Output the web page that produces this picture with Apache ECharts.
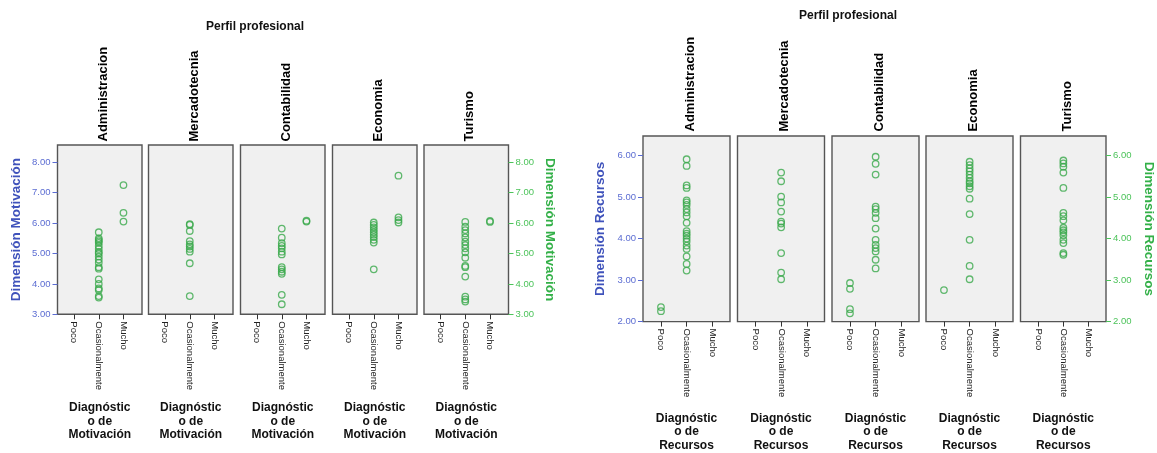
<!DOCTYPE html>
<html>
<head>
<meta charset="utf-8">
<title>Perfil profesional</title>
<script src="https://cdn.jsdelivr.net/npm/echarts@6/dist/echarts.min.js"></script>
<style>
  html, body { margin: 0; padding: 0; background: #ffffff; }
  #chart { width: 1157px; height: 453px; }
</style>
</head>
<body>
<div id="chart"></div>
<script>
// Categories
const professions = ['Administracion', 'Mercadotecnia', 'Contabilidad', 'Economia', 'Turismo'];
const levels = ['Poco', 'Ocasionalmente', 'Mucho'];

// Dimensión Motivación by profession: [Poco, Ocasionalmente, Mucho]
const motAdministracion = [
  [],
  [5.70, 5.50, 5.45, 5.40, 5.35, 5.25, 5.15, 5.05, 5.00, 4.90, 4.80, 4.70, 4.55, 4.50, 4.15, 4.00, 3.85, 3.80, 3.60, 3.55],
  [7.25, 6.34, 6.05]
];
const motMercadotecnia = [
  [],
  [5.97, 5.94, 5.74, 5.41, 5.30, 5.23, 5.15, 5.06, 4.68, 3.60],
  []
];
const motContabilidad = [
  [],
  [5.82, 5.52, 5.34, 5.25, 5.17, 5.06, 4.97, 4.55, 4.48, 4.40, 4.33, 3.64, 3.33],
  [6.08, 6.05]
];
const motEconomia = [
  [],
  [6.02, 5.94, 5.86, 5.78, 5.70, 5.62, 5.54, 5.45, 5.36, 4.48],
  [7.56, 6.19, 6.10, 6.02]
];
const motTurismo = [
  [],
  [6.04, 5.88, 5.77, 5.66, 5.53, 5.39, 5.28, 5.17, 5.04, 4.86, 4.59, 4.55, 4.24, 3.58, 3.49, 3.42],
  [6.07, 6.04]
];

// Dimensión Recursos by profession: [Poco, Ocasionalmente, Mucho]
const recAdministracion = [
  [2.35, 2.25],
  [5.91, 5.75, 5.28, 5.22, 4.92, 4.87, 4.81, 4.71, 4.63, 4.54, 4.38, 4.18, 4.12, 4.07, 4.00, 3.93, 3.83, 3.75, 3.57, 3.39, 3.23],
  []
];
const recMercadotecnia = [
  [],
  [5.59, 5.38, 5.01, 4.87, 4.65, 4.41, 4.36, 4.27, 3.65, 3.18, 3.02],
  []
];
const recContabilidad = [
  [2.93, 2.79, 2.30, 2.20],
  [5.97, 5.80, 5.54, 4.77, 4.71, 4.62, 4.49, 4.24, 3.97, 3.85, 3.77, 3.69, 3.49, 3.28],
  []
];
const recEconomia = [
  [2.76],
  [5.85, 5.77, 5.69, 5.62, 5.54, 5.46, 5.38, 5.33, 5.26, 5.20, 4.96, 4.59, 3.97, 3.34, 3.02],
  []
];
const recTurismo = [
  [],
  [5.88, 5.81, 5.73, 5.59, 5.22, 4.62, 4.54, 4.44, 4.26, 4.20, 4.15, 4.08, 3.97, 3.89, 3.65, 3.61],
  []
];

// Tick labels
const motTicks = [3, 4, 5, 6, 7, 8];
const recTicks = [2, 3, 4, 5, 6];

const FONT = 'Liberation Sans, Arial, sans-serif';
const BLUE_LABEL = '#5b6cd2';
const BLUE_TITLE = '#3f52bb';
const GREEN_LABEL = '#4cc35a';
const GREEN_TITLE = '#33b048';
const POINT = '#3aa94b';

const option = {
  animation: false,
  backgroundColor: '#ffffff',
  grid: [], xAxis: [], yAxis: [], series: [], graphic: []
};

function addPanelChart(cfg) {
  cfg.groups.forEach((group, i) => {
    const g = option.grid.length;
    const left = cfg.lefts[i];
    option.grid.push({
      left: left, top: cfg.top, width: cfg.width, height: cfg.height,
      show: true, backgroundColor: '#f0f0f0', borderColor: '#555555', borderWidth: 1.4
    });
    option.xAxis.push({
      gridIndex: g, type: 'value', min: cfg.xMin, max: cfg.xMax,
      axisLine: { show: false, onZero: false }, splitLine: { show: false },
      axisTick: { show: true, customValues: [0, 1, 2], length: 5, lineStyle: { color: '#333333', width: 1 } },
      axisLabel: {
        customValues: [0, 1, 2], formatter: v => levels[Math.round(v)],
        rotate: -90, fontSize: 9.5, color: '#222222', margin: 7, fontFamily: FONT
      },
      name: cfg.xName, nameLocation: 'middle', nameGap: cfg.xNameGap,
      nameTextStyle: { fontWeight: 'bold', fontSize: 12, lineHeight: 13.3, color: '#111111', fontFamily: FONT, verticalAlign: 'top' }
    });
    const isFirst = i === 0, isLast = i === cfg.groups.length - 1;
    const y = {
      gridIndex: g, type: 'value', min: cfg.yMin, max: cfg.yMax,
      show: isFirst || isLast, position: isLast ? 'right' : 'left',
      axisLine: { show: false, onZero: false }, splitLine: { show: false },
      axisTick: { show: true, customValues: cfg.yTicks, length: 5,
        lineStyle: { color: isLast ? GREEN_LABEL : BLUE_LABEL, width: 1 } },
      axisLabel: { customValues: cfg.yTicks, formatter: v => v.toFixed(2),
        fontSize: 9.5, color: isLast ? GREEN_LABEL : BLUE_LABEL, margin: 7, fontFamily: FONT }
    };
    if (isFirst || isLast) {
      y.name = cfg.yName;
      y.nameLocation = 'middle';
      y.nameRotate = isLast ? -90 : 90;
      y.nameGap = cfg.yNameGap;
      y.nameTextStyle = { fontWeight: 'bold', fontSize: 13.5, color: isLast ? GREEN_TITLE : BLUE_TITLE, fontFamily: FONT };
    }
    option.yAxis.push(y);

    const pts = [];
    group.forEach((vals, lv) => vals.forEach(v => pts.push([lv, v])));
    option.series.push({
      type: 'scatter', xAxisIndex: g, yAxisIndex: g, data: pts,
      symbol: 'circle', symbolSize: 6.5, silent: true,
      itemStyle: { color: 'rgba(0,0,0,0)', borderColor: POINT, borderWidth: 1.3 }
    });

    // Panel header: profession name, rotated
    option.graphic.push({
      type: 'text', x: left + cfg.width / 2 + 3.5, y: cfg.top - cfg.headerGap, rotation: Math.PI / 2,
      style: { text: professions[i], align: 'left', verticalAlign: 'middle',
        font: 'bold ' + cfg.headerSize + 'px ' + FONT, fill: '#000000' }
    });
  });
  option.graphic.push({
    type: 'text', x: cfg.titleX, y: cfg.titleY,
    style: { text: 'Perfil profesional', align: 'center', verticalAlign: 'middle',
      font: 'bold 12px ' + FONT, fill: '#111111' }
  });
}

addPanelChart({
  groups: [motAdministracion, motMercadotecnia, motContabilidad, motEconomia, motTurismo],
  lefts: [57.5, 148.5, 240.5, 332.5, 424], top: 145, width: 84.5, height: 169.3,
  xMin: -0.67, xMax: 2.75, yMin: 3, yMax: 8.57, yTicks: motTicks,
  yName: 'Dimensión Motivación', yNameGap: 34,
  xName: 'Diagnóstic\no de\nMotivación', xNameGap: 87,
  headerSize: 13, headerGap: 3.5, titleX: 255, titleY: 27
});

addPanelChart({
  groups: [recAdministracion, recMercadotecnia, recContabilidad, recEconomia, recTurismo],
  lefts: [643, 737.5, 832, 926, 1020.5], top: 136, width: 87, height: 189,
  xMin: -0.70, xMax: 2.69, yMin: 2, yMax: 6.47, yTicks: recTicks,
  yName: 'Dimensión Recursos', yNameGap: 36,
  xName: 'Diagnóstic\no de\nRecursos', xNameGap: 90.5,
  headerSize: 13, headerGap: 4.5, titleX: 848, titleY: 16
});

const chart = echarts.init(document.getElementById('chart'), null, { renderer: 'canvas' });
chart.setOption(option);
</script>
</body>
</html>
